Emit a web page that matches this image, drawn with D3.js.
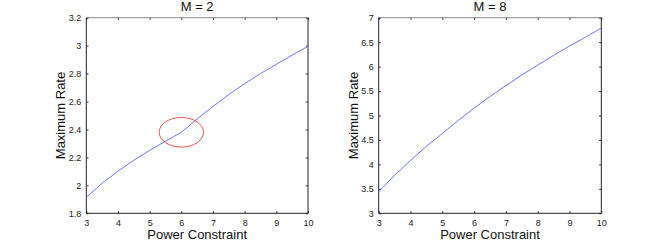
<!DOCTYPE html>
<html>
<head>
<meta charset="utf-8">
<script src="https://cdn.jsdelivr.net/npm/d3@7"></script>
<style>
  body { margin: 0; background: #fff; }
  svg { display: block; font-family: "Liberation Sans", Arial, sans-serif; }
</style>
</head>
<body>
<svg width="664" height="241"></svg>
<script>
// data
var power = [3, 3.5, 4, 4.5, 5, 5.5, 6, 6.5, 7, 7.5, 8, 8.5, 9, 9.5, 10];
var rateM2 = [1.914, 2.015, 2.102, 2.18, 2.25, 2.316, 2.38, 2.475, 2.565, 2.65, 2.728, 2.80, 2.866, 2.932, 2.995];
var rateM8 = [3.44, 3.78, 4.08, 4.37, 4.63, 4.90, 5.15, 5.39, 5.61, 5.83, 6.03, 6.23, 6.42, 6.60, 6.79];

var xTicks = [3, 4, 5, 6, 7, 8, 9, 10];
var yTicksM2 = [1.8, 2, 2.2, 2.4, 2.6, 2.8, 3, 3.2];
var yTicksM8 = [3, 3.5, 4, 4.5, 5, 5.5, 6, 6.5, 7];

// red ellipse marking the kink (center and radii in data units)
var markCenter = [6, 2.38];
var markRadius = [0.7, 0.106];

var svg = d3.select("svg");
var top0 = 17.7, bottom0 = 213.3;

function drawPanel(left, right, title, values, yDomain, yTicks, mark) {
  var x = d3.scaleLinear().domain([3, 10]).range([left, right]);
  var y = d3.scaleLinear().domain(yDomain).range([bottom0, top0]);
  var g = svg.append("g");
  var tl = 2.2;

  // tick marks, inward on all four sides
  g.append("g").attr("transform", `translate(0,${bottom0})`)
    .call(d3.axisBottom(x).tickValues(xTicks).tickSizeInner(-tl).tickSizeOuter(0).tickPadding(6).tickFormat(d3.format("d")))
    .call(a => a.select(".domain").remove());
  g.append("g").attr("transform", `translate(0,${top0})`)
    .call(d3.axisTop(x).tickValues(xTicks).tickSizeInner(-tl).tickSizeOuter(0).tickFormat(""))
    .call(a => a.select(".domain").remove());
  g.append("g").attr("transform", `translate(${left},0)`)
    .call(d3.axisLeft(y).tickValues(yTicks).tickSizeInner(-tl).tickSizeOuter(0).tickPadding(5).tickFormat(d3.format("~g")))
    .call(a => a.select(".domain").remove());
  g.append("g").attr("transform", `translate(${right},0)`)
    .call(d3.axisRight(y).tickValues(yTicks).tickSizeInner(-tl).tickSizeOuter(0).tickFormat(""))
    .call(a => a.select(".domain").remove());

  g.selectAll(".tick line").attr("stroke", "#333");
  g.selectAll(".tick text").attr("font-size", 9).attr("fill", "#222")
    .attr("font-family", "Liberation Sans, Arial, sans-serif");

  // box
  g.append("line").attr("x1", left).attr("x2", right).attr("y1", top0).attr("y2", top0).attr("stroke", "#888");
  g.append("line").attr("x1", left).attr("x2", left).attr("y1", top0).attr("y2", bottom0).attr("stroke", "#222");
  g.append("line").attr("x1", right).attr("x2", right).attr("y1", top0).attr("y2", bottom0).attr("stroke", "#222");
  g.append("line").attr("x1", left).attr("x2", right).attr("y1", bottom0).attr("y2", bottom0).attr("stroke", "#222");

  var line = d3.line().x((d, i) => x(power[i])).y(d => y(d));
  g.append("path").datum(values).attr("d", line)
    .attr("fill", "none").attr("stroke", "#6678ff").attr("stroke-width", 1);

  if (mark) {
    g.append("ellipse")
      .attr("cx", x(mark.c[0])).attr("cy", y(mark.c[1]))
      .attr("rx", x(mark.c[0] + mark.r[0]) - x(mark.c[0]))
      .attr("ry", y(mark.c[1]) - y(mark.c[1] + mark.r[1]))
      .attr("fill", "none").attr("stroke", "#f05555").attr("stroke-width", 1);
  }

  var cx = (left + right) / 2;
  g.append("text").attr("x", cx).attr("y", 10.5).attr("text-anchor", "middle")
    .attr("font-size", 13).attr("fill", "#111").text(title);
  g.append("text").attr("x", cx).attr("y", 238.5).attr("text-anchor", "middle")
    .attr("font-size", 13).attr("fill", "#111").text("Power Constraint");
  g.append("text").attr("transform", `translate(${left - 21},${(top0 + bottom0) / 2}) rotate(-90)`)
    .attr("text-anchor", "middle").attr("font-size", 13).attr("fill", "#111").text("Maximum Rate");
}

drawPanel(86.3, 308, "M = 2", rateM2, [1.8, 3.2], yTicksM2, { c: markCenter, r: markRadius });
drawPanel(378.7, 601.3, "M = 8", rateM8, [3, 7], yTicksM8, null);
</script>
</body>
</html>
